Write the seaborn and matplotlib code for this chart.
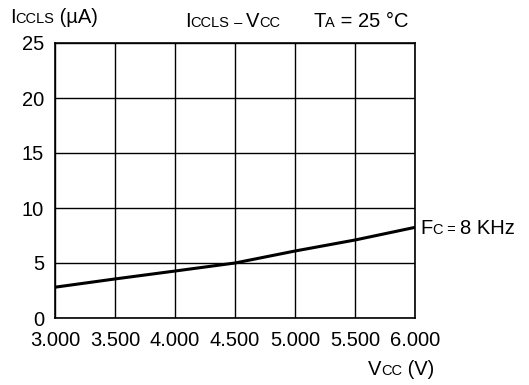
import matplotlib
matplotlib.use("Agg")
import matplotlib.pyplot as plt
import seaborn as sns
import pandas as pd

# values
vcc = [3.0, 3.5, 4.0, 4.5, 5.0, 5.5, 6.0]
iccls = [2.8, 3.55, 4.27, 5.0, 6.09, 7.09, 8.24]
x_ticks = [3.0, 3.5, 4.0, 4.5, 5.0, 5.5, 6.0]
x_labels = ["3.000", "3.500", "4.000", "4.500", "5.000", "5.500", "6.000"]
y_ticks = [0, 5, 10, 15, 20, 25]

df = pd.DataFrame({"Vcc": vcc, "Iccls": iccls})

sns.set_style("white")
plt.rcParams["font.family"] = ["Liberation Sans", "DejaVu Sans"]
plt.rcParams["text.color"] = "black"

W, H = 529, 385
fig = plt.figure(figsize=(W / 100, H / 100), dpi=100)
ax = fig.add_axes([55 / W, (H - 318) / H, 360 / W, 275 / H])

sns.lineplot(data=df, x="Vcc", y="Iccls", ax=ax, color="black", linewidth=2.2)

ax.set_xlim(3.0, 6.0)
ax.set_ylim(0, 25)
ax.set_xticks(x_ticks)
ax.set_xticklabels(x_labels)
ax.set_yticks(y_ticks)
ax.grid(True, color="black", linewidth=1)
ax.tick_params(length=0, labelsize=14.5, colors="black")
ax.tick_params(axis="x", pad=9)
ax.tick_params(axis="y", pad=8)
ax.set_xlabel("")
ax.set_ylabel("")
for s in ax.spines.values():
    s.set_color("black")
    s.set_linewidth(1.2)

BIG, SMALL = 14.5, 10.5
renderer = fig.canvas.get_renderer()


def rich(x, y, parts):
    # draw text pieces side by side, pixel coords from top-left, shared baseline
    for txt, size in parts:
        t = fig.text(x / W, 1 - y / H, txt, fontsize=size, va="baseline", ha="left",
                     color="black")
        x = t.get_window_extent(renderer).x1


rich(10, 23, [("I", BIG), ("CCLS", SMALL), (" (µA)", BIG)])
rich(185, 27, [("I", BIG), ("CCLS", SMALL), (" – ", SMALL), ("V", BIG), ("CC", SMALL)])
rich(313, 27, [("T", BIG), ("A", SMALL), (" = 25 °C", BIG)])
rich(420, 234, [("F", BIG), ("C", SMALL), (" = ", SMALL), ("8 KHz", BIG)])
rich(368, 375, [("V", BIG), ("CC", SMALL), (" (V)", BIG)])

fig.savefig("out.png", dpi=100)
